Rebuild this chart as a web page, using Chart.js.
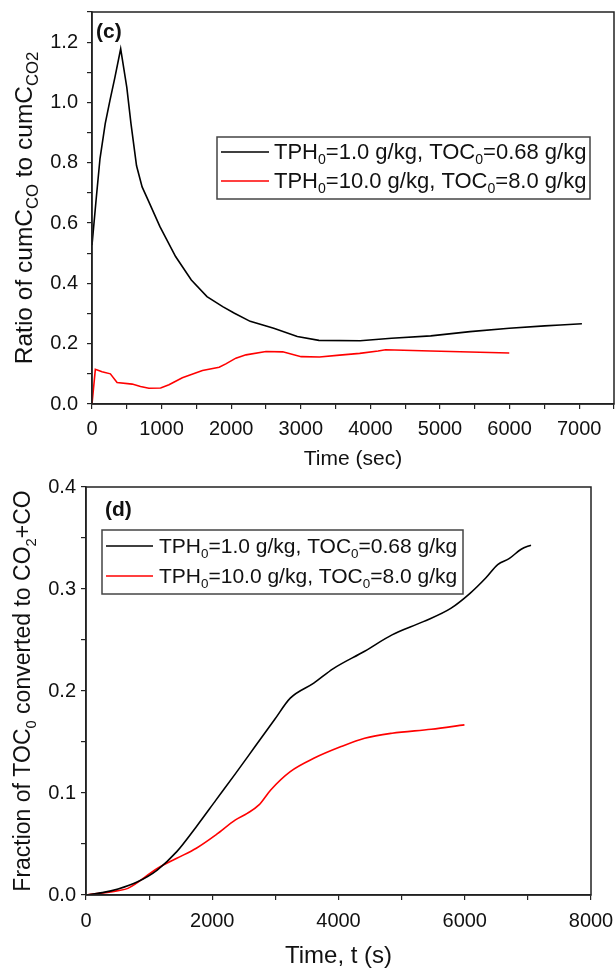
<!DOCTYPE html>
<html>
<head>
<meta charset="UTF-8">
<title>cumC ratio and TOC fraction</title>
<script src="https://cdn.jsdelivr.net/npm/chart.js"></script>
<style>
  body { margin: 0; background: #fff; }
  canvas { position: absolute; left: 0; }
</style>
</head>
<body>
<canvas id="chartC" width="616" height="470" style="top:0"></canvas>
<canvas id="chartD" width="616" height="498" style="top:470px"></canvas>

<script>
    // (c) ratio of cumC_CO to cumC_CO2
    var timeC1 = [0, 60, 115, 190, 258, 330, 412, 500, 560, 640, 720, 806, 976, 1201, 1427, 1652, 1878, 2047, 2273, 2611, 2950, 3260, 3852, 4303, 4867, 5431, 5995, 6503, 6729, 7039];
    var ratioC1 = [0.527, 0.68, 0.814, 0.93, 1.007, 1.084, 1.178, 1.05, 0.93, 0.79, 0.72, 0.676, 0.588, 0.489, 0.411, 0.356, 0.323, 0.301, 0.274, 0.251, 0.224, 0.211, 0.21, 0.218, 0.226, 0.24, 0.251, 0.259, 0.262, 0.266];
    var timeC2 = [0, 48, 96, 144, 264, 360, 577, 697, 817, 986, 1106, 1298, 1587, 1827, 1923, 2067, 2212, 2500, 2740, 3005, 3269, 3558, 3846, 4111, 4219, 4867, 5995];
    var ratioC2 = [0, 0.115, 0.111, 0.107, 0.1, 0.071, 0.066, 0.058, 0.052, 0.053, 0.064, 0.087, 0.111, 0.122, 0.133, 0.152, 0.163, 0.174, 0.173, 0.157, 0.156, 0.162, 0.168, 0.176, 0.18, 0.176, 0.169];

    // (d) fraction of TOC_0 converted to CO2+CO
    var timeD1 = [0, 260, 508, 818, 1128, 1438, 1748, 2058, 2368, 2678, 2988, 3236, 3608, 3918, 4414, 4848, 5344, 5778, 6088, 6336, 6522, 6708, 6894, 7049];
    var fracD1 = [0, 0.0023, 0.0059, 0.013, 0.0245, 0.0425, 0.067, 0.093, 0.119, 0.1455, 0.172, 0.193, 0.2077, 0.222, 0.239, 0.255, 0.268, 0.281, 0.296, 0.311, 0.324, 0.33, 0.339, 0.343];
    var timeD2 = [0, 508, 663, 1128, 1438, 1748, 2058, 2368, 2554, 2740, 2926, 3236, 3608, 4042, 4414, 4848, 5468, 5995];
    var fracD2 = [0, 0.0043, 0.0065, 0.026, 0.036, 0.0458, 0.0589, 0.0736, 0.08, 0.0883, 0.103, 0.121, 0.134, 0.1455, 0.1537, 0.1586, 0.1625, 0.1668];

    // legend labels, [text, subscript?]
    var label1 = [['TPH', 0], ['0', 1], ['=1.0 g/kg, TOC', 0], ['0', 1], ['=0.68 g/kg', 0]];
    var label2 = [['TPH', 0], ['0', 1], ['=10.0 g/kg, TOC', 0], ['0', 1], ['=8.0 g/kg', 0]];
    var yTitleC = [['Ratio of cumC', 0], ['CO', 1], [' to cumC', 0], ['CO2', 1]];
    var yTitleD = [['Fraction of TOC', 0], ['0', 1], [' converted to CO', 0], ['2', 1], ['+CO', 0]];

    var FONT = '"Liberation Sans", Arial, sans-serif';

    function pts(xs, ys) {
        return xs.map(function (x, i) { return { x: x, y: ys[i] }; });
    }

    // draw text with subscripts
    function drawRich(ctx, parts, x, y, size, align, subScale) {
        var sub = size * (subScale || 0.64);
        var w = 0;
        parts.forEach(function (p) {
            ctx.font = (p[1] ? sub : size) + 'px ' + FONT;
            w += ctx.measureText(p[0]).width;
        });
        var cx = align === 'center' ? x - w / 2 : x;
        ctx.textAlign = 'left';
        ctx.textBaseline = 'alphabetic';
        parts.forEach(function (p) {
            ctx.font = (p[1] ? sub : size) + 'px ' + FONT;
            ctx.fillText(p[0], cx, p[1] ? y + size * 0.24 : y);
            cx += ctx.measureText(p[0]).width;
        });
    }

    function decor(cfg) {
        return {
            id: 'decor',
            afterDraw: function (chart) {
                var ctx = chart.ctx, a = chart.chartArea;
                ctx.save();
                ctx.strokeStyle = '#222';
                ctx.lineWidth = 1.5;
                ctx.strokeRect(a.left, a.top, a.right - a.left, a.bottom - a.top);
                ctx.fillStyle = '#111';

                // y title
                ctx.save();
                ctx.translate(cfg.yTitleX, (a.top + a.bottom) / 2);
                ctx.rotate(-Math.PI / 2);
                drawRich(ctx, cfg.yTitle, 0, 0, cfg.yTitleSize, 'center', cfg.ySub);
                ctx.restore();

                // x title
                ctx.font = cfg.xTitleSize + 'px ' + FONT;
                ctx.textAlign = 'center';
                ctx.textBaseline = 'alphabetic';
                ctx.fillText(cfg.xTitle, (a.left + a.right) / 2, cfg.xTitleY);

                // panel tag
                ctx.font = 'bold 21px ' + FONT;
                ctx.textAlign = 'left';
                ctx.fillText(cfg.tag, cfg.tagX, cfg.tagY);

                // legend
                var L = cfg.legend;
                ctx.strokeStyle = '#444';
                ctx.lineWidth = 1.5;
                ctx.strokeRect(L.x, L.y, L.w, L.h);
                chart.data.datasets.forEach(function (ds, i) {
                    var ry = L.rows[i];
                    ctx.strokeStyle = ds.borderColor;
                    ctx.lineWidth = 1.6;
                    ctx.beginPath();
                    ctx.moveTo(L.x + 4, ry);
                    ctx.lineTo(L.x + 4 + L.sample, ry);
                    ctx.stroke();
                    ctx.fillStyle = '#111';
                    drawRich(ctx, i === 0 ? label1 : label2, L.textX, ry + L.base, L.size, 'left');
                });
                ctx.restore();
            }
        };
    }

    function axisStyle(pad) {
        return {
            grid: { drawOnChartArea: false, drawTicks: true, tickLength: 5, color: '#222', lineWidth: 1.2 },
            border: { color: '#222', width: 1.5 },
            ticks: { font: { family: FONT, size: 20 }, color: '#111', padding: pad, autoSkip: false, maxRotation: 0 }
        };
    }

    // fixed axis boxes so the plot area lands where the reference has it
    function fixX(h) {
        return function (s) { s.height = h; s.paddingLeft = 0; s.paddingRight = 0; };
    }
    function fixY(w) {
        return function (s) { s.width = w; s.paddingTop = 0; s.paddingBottom = 0; };
    }

    // ---- chart (c)
    var xC = axisStyle(8);
    xC.type = 'linear'; xC.min = 0; xC.max = 7500;
    xC.ticks.stepSize = 500;
    xC.ticks.callback = function (v) { return v % 1000 === 0 ? String(v) : ''; };
    xC.afterFit = fixX(66);

    var yC = axisStyle(9);
    yC.min = 0; yC.max = 1.3;
    yC.ticks.stepSize = 0.1;
    yC.ticks.callback = function (v) { return Math.round(v * 10) % 2 === 0 ? v.toFixed(1) : ''; };
    yC.afterFit = fixY(92);

    new Chart(document.getElementById('chartC'), {
        type: 'line',
        data: {
            datasets: [
                { data: pts(timeC1, ratioC1), borderColor: '#000000', borderWidth: 1.6, pointRadius: 0, tension: 0 },
                { data: pts(timeC2, ratioC2), borderColor: '#ff0000', borderWidth: 1.6, pointRadius: 0, tension: 0 }
            ]
        },
        options: {
            responsive: false,
            animation: false,
            layout: { padding: { top: 12, right: 2, left: 0, bottom: 0 } },
            plugins: { legend: { display: false }, tooltip: { enabled: false } },
            scales: { x: xC, y: yC }
        },
        plugins: [decor({
            yTitle: yTitleC, yTitleX: 32, yTitleSize: 24.5, ySub: 0.68,
            xTitle: 'Time (sec)', xTitleSize: 21, xTitleY: 465,
            tag: '(c)', tagX: 96, tagY: 38,
            legend: { x: 217, y: 137, w: 373, h: 62, rows: [152, 181], sample: 48, textX: 274, base: 6.5, size: 22 }
        })]
    });

    // ---- chart (d)
    var xD = axisStyle(9);
    xD.type = 'linear'; xD.min = 0; xD.max = 8000;
    xD.ticks.stepSize = 1000;
    xD.ticks.callback = function (v) { return v % 2000 === 0 ? String(v) : ''; };
    xD.afterFit = fixX(73);

    var yD = axisStyle(5);
    yD.min = 0; yD.max = 0.4;
    yD.ticks.stepSize = 0.05;
    yD.ticks.callback = function (v) { return Math.round(v * 20) % 2 === 0 ? v.toFixed(1) : ''; };
    yD.afterFit = fixY(86);

    new Chart(document.getElementById('chartD'), {
        type: 'line',
        data: {
            datasets: [
                { data: pts(timeD1, fracD1), borderColor: '#000000', borderWidth: 1.6, pointRadius: 0, cubicInterpolationMode: 'monotone' },
                { data: pts(timeD2, fracD2), borderColor: '#ff0000', borderWidth: 1.6, pointRadius: 0, cubicInterpolationMode: 'monotone' }
            ]
        },
        options: {
            responsive: false,
            animation: false,
            layout: { padding: { top: 17, right: 25, left: 0, bottom: 0 } },
            plugins: { legend: { display: false }, tooltip: { enabled: false } },
            scales: { x: xD, y: yD }
        },
        plugins: [decor({
            yTitle: yTitleD, yTitleX: 30, yTitleSize: 23,
            xTitle: 'Time, t (s)', xTitleSize: 24, xTitleY: 493,
            tag: '(d)', tagX: 105, tagY: 46,
            legend: { x: 102, y: 60, w: 361, h: 64, rows: [76, 106], sample: 47, textX: 159, base: 6.5, size: 21 }
        })]
    });
</script>
</body>
</html>
